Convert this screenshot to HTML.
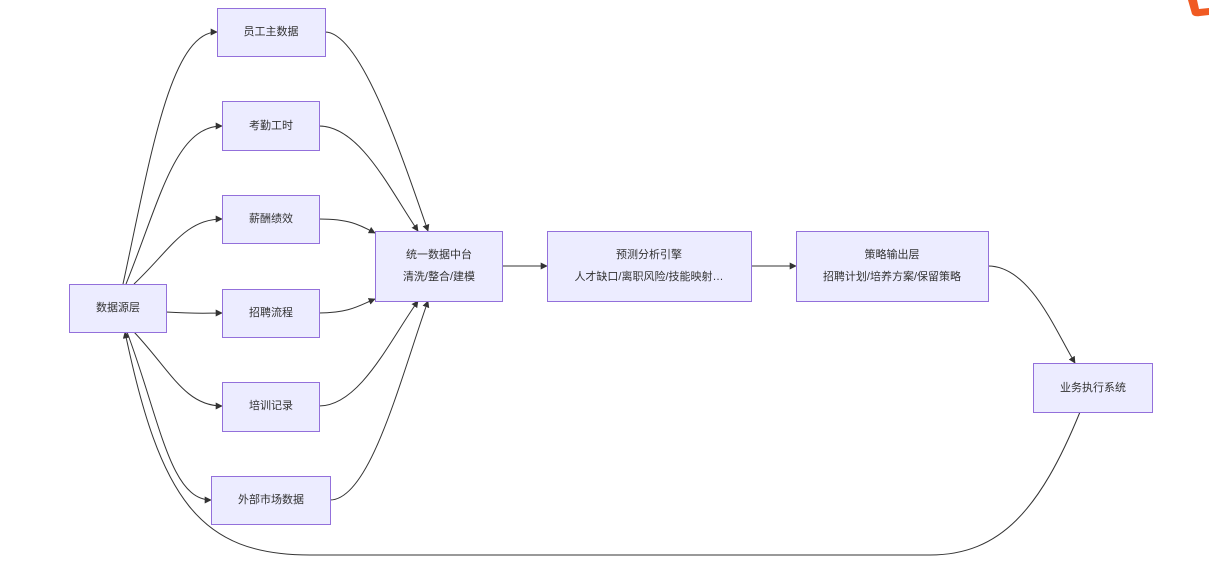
<!DOCTYPE html>
<html><head><meta charset="utf-8"><style>
html,body{margin:0;padding:0;background:#fff;width:1209px;height:569px;overflow:hidden}
svg text{font-family:"Liberation Sans","Noto Sans CJK SC",sans-serif;font-size:11px;fill:#333;text-anchor:middle;dominant-baseline:middle}
</style></head><body>
<svg width="1209" height="569" viewBox="0 0 1209 569">
<defs><marker id="a" viewBox="0 0 10 10" refX="9" refY="5" markerWidth="7" markerHeight="7" orient="auto"><path d="M0,0L10,5L0,10z" fill="#333"/></marker></defs>
<path d="M1188,0 L1192,14 Q1194,17 1200,16 L1209,15 L1209,8 L1199,9 L1197,0z" fill="#f05a22"/>
<g fill="none" stroke="#333" stroke-width="1" marker-end="url(#a)">
<path d="M123,284 C150,160 170,32 217,32"/>
<path d="M126,284 C160,200 175,126 222,126"/>
<path d="M134,284 C170,250 185,219 222,219"/>
<path d="M166,312 C200,314 205,313 222,313"/>
<path d="M134,332 C170,370 185,406 222,406"/>
<path d="M127,332 C160,420 170,500 211,500"/>
<path d="M325,32 C360,32 400,150 428,231"/>
<path d="M319,126 C360,126 390,190 418,231"/>
<path d="M319,219 C350,219 360,225 375,233"/>
<path d="M319,313 C350,313 360,305 375,299"/>
<path d="M319,406 C360,406 390,340 418,301"/>
<path d="M330,500 C370,500 400,380 428,301"/>
<path d="M502,266 L547,266"/>
<path d="M751,266 L796,266"/>
<path d="M988,266 C1030,266 1055,330 1075,363"/>
<path d="M1080,412 C1040,510 1000,555 930,555 L310,555 C200,555 160,500 125,332"/>
</g>
<g fill="#ececff" stroke="#9370db" stroke-width="1">
<rect x="69.5" y="284.5" width="97" height="48"/>
<rect x="217.5" y="8.5" width="108" height="48"/>
<rect x="222.5" y="101.5" width="97" height="49"/>
<rect x="222.5" y="195.5" width="97" height="48"/>
<rect x="222.5" y="289.5" width="97" height="48"/>
<rect x="222.5" y="382.5" width="97" height="49"/>
<rect x="211.5" y="476.5" width="119" height="48"/>
<rect x="375.5" y="231.5" width="127" height="70"/>
<rect x="547.5" y="231.5" width="204" height="70"/>
<rect x="796.5" y="231.5" width="192" height="70"/>
<rect x="1033.5" y="363.5" width="119" height="49"/>
</g>
<text x="118" y="308">数据源层</text>
<text x="271" y="32">员工主数据</text>
<text x="271" y="126">考勤工时</text>
<text x="271" y="219">薪酬绩效</text>
<text x="271" y="313">招聘流程</text>
<text x="271" y="406">培训记录</text>
<text x="271" y="500">外部市场数据</text>
<text x="439" y="255">统一数据中台</text>
<text x="439" y="277">清洗/整合/建模</text>
<text x="649" y="255">预测分析引擎</text>
<text x="649" y="277">人才缺口/离职风险/技能映射…</text>
<text x="892" y="255">策略输出层</text>
<text x="892" y="277">招聘计划/培养方案/保留策略</text>
<text x="1093" y="388">业务执行系统</text>
</svg>
</body></html>
